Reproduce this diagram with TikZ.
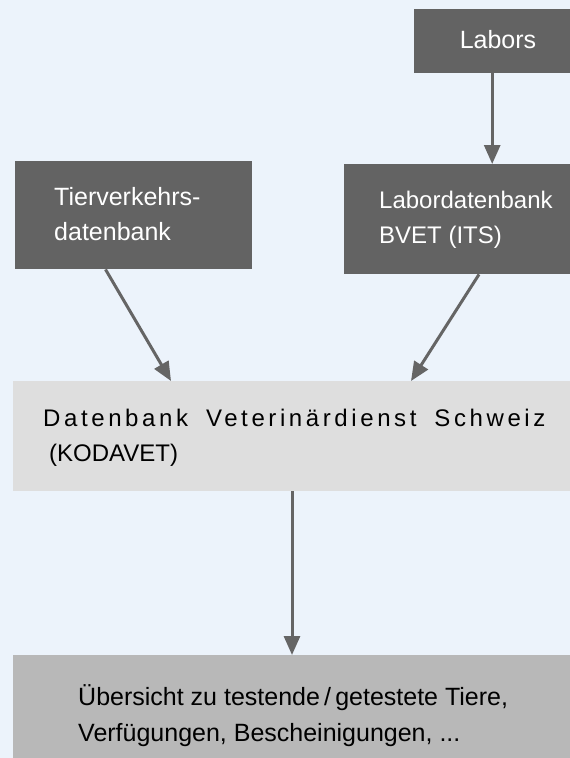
\documentclass[tikz,border=0pt]{standalone}
\usepackage{fontspec}
\setmainfont{Liberation Sans}
\newfontfamily\spacedfont[LetterSpace=15,WordSpace=1.75]{Liberation Sans}
\usetikzlibrary{arrows.meta,calc}
\definecolor{bgc}{HTML}{ECF3FB}
\definecolor{darkbox}{HTML}{636363}
\definecolor{lightbox}{HTML}{DEDEDE}
\definecolor{midbox}{HTML}{B8B8B8}
\definecolor{arrc}{HTML}{656565}
\tikzset{
  box/.style={draw=none, inner sep=0pt, anchor=north west},
  darkb/.style={box, fill=darkbox},
  lightb/.style={box, fill=lightbox},
  midb/.style={box, fill=midbox},
  txt/.style={inner sep=0pt, anchor=base west, font=\fontsize{25}{35}\selectfont},
  wtxt/.style={txt, text=white},
  btxt/.style={txt, text=black},
  arr/.style={draw=arrc, line width=3pt, -{Triangle[length=19pt,width=16pt]}, shorten >=0pt},
}
\begin{document}
\begin{tikzpicture}[x=1pt,y=-1pt]
\useasboundingbox[fill=bgc] (0,0) rectangle (570,758);
% boxes
\node[darkb, minimum width=156pt, minimum height=64pt] (labors) at (414,9) {};
\node[darkb, minimum width=237.5pt, minimum height=108pt] (tier) at (14.5,161) {};
\node[darkb, minimum width=226pt, minimum height=110pt] (lab) at (344,164) {};
\node[lightb, minimum width=557pt, minimum height=110pt] (kod) at (13,381) {};
\node[midb, minimum width=557pt, minimum height=103pt] (res) at (13,655) {};
% texts
\node[wtxt, anchor=base] (tlabors) at (498,48) {Labors};
\node[wtxt] (ttier1) at (54,205) {Tierverkehrs-};
\node[wtxt] (ttier2) at (54,240) {datenbank};
\node[wtxt, font=\fontsize{24}{35}\selectfont] (tlab1) at (379,208) {Labordatenbank};
\node[wtxt, font=\fontsize{24}{35}\selectfont] (tlab2) at (379,243) {BVET (ITS)};
\node[btxt, font=\spacedfont\fontsize{24}{35}\selectfont] (tkod1) at (43,426) {Datenbank Veterinärdienst Schweiz};
\node[btxt, font=\fontsize{24}{35}\selectfont] (tkod2) at (49,461) {(KODAVET)};
\node[btxt] (tres1) at (78,705) {Übersicht zu testende\,/\,getestete Tiere,};
\node[btxt] (tres2) at (78,741) {Verfügungen, Bescheinigungen, ...};
% connectors
\draw[arr] (labors.south) -- (labors.south |- lab.north);
\draw[arr] ($(tier.south west)+(91,0)$) -- ($(kod.north west)+(158,0)$);
\draw[arr] ($(lab.south west)+(135,0)$) -- ($(kod.north west)+(398,0)$);
\draw[arr] ($(kod.south west)+(279,0)$) -- ($(res.north west)+(279,0)$);
\end{tikzpicture}
\end{document}
